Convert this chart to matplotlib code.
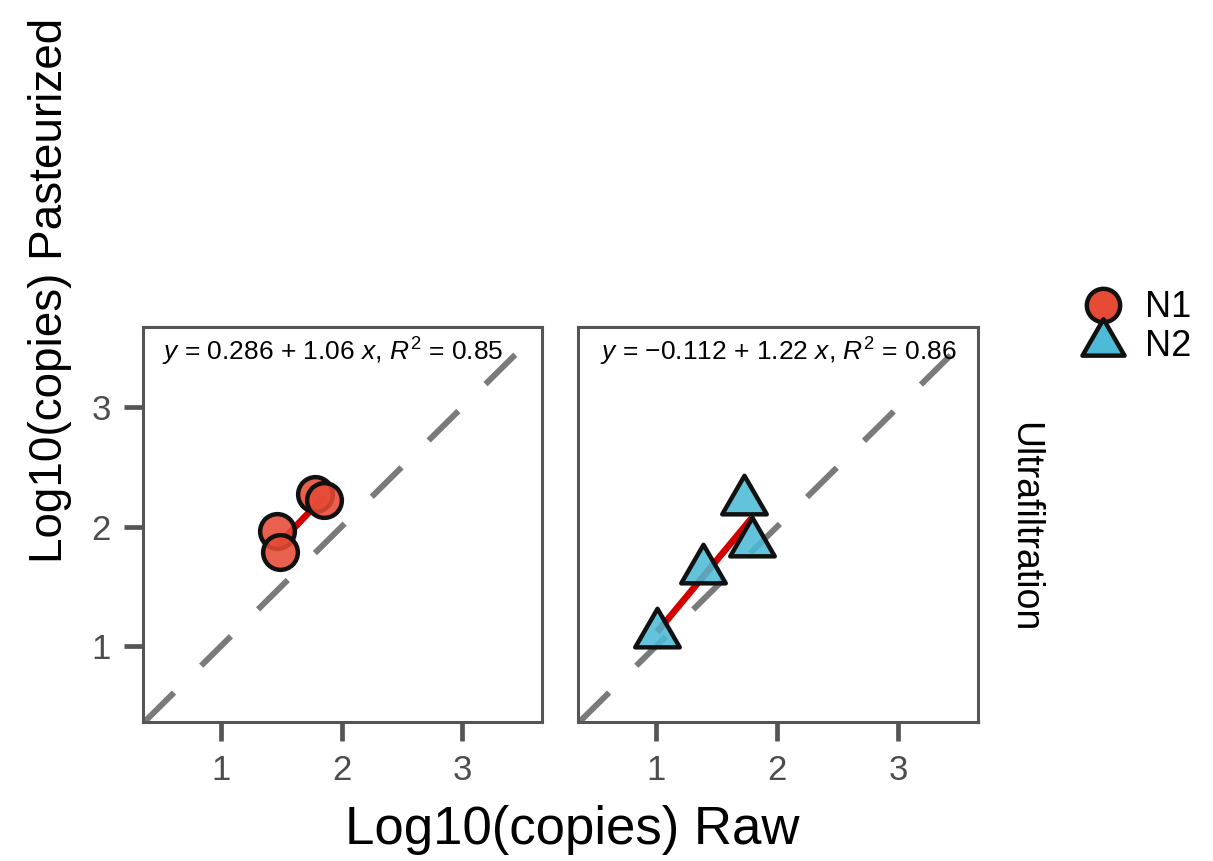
import numpy as np
import matplotlib
matplotlib.use("Agg")
import matplotlib.pyplot as plt
from matplotlib.lines import Line2D
from matplotlib.path import Path

plt.rcParams['font.family'] = ['Liberation Sans', 'DejaVu Sans']
plt.rcParams['mathtext.fontset'] = 'custom'
plt.rcParams['mathtext.rm'] = 'Liberation Sans'
plt.rcParams['mathtext.it'] = 'Liberation Sans:italic'

# ---- data ----
n1_raw = [1.467, 1.49, 1.78, 1.855]
n1_past = [1.96, 1.785, 2.27, 2.22]
n2_raw = [1.727, 1.79, 1.384, 1.008]
n2_past = [2.21, 1.86, 1.64, 1.10]
fit_n1 = (0.286, 1.06, 0.85)
fit_n2 = (-0.112, 1.22, 0.86)
series = ["N1", "N2"]
facet_label = "Ultrafiltration"
ticks = [1, 2, 3]
xlabel = "Log10(copies) Raw"
ylabel = "Log10(copies) Pasteurized"

red_fill = "#E64B35"
blue_fill = "#4DBBD5"
frame_col = "#555555"

tri = Path([(-1.0, -0.577), (1.0, -0.577), (0.0, 1.155), (-1.0, -0.577)],
           [Path.MOVETO, Path.LINETO, Path.LINETO, Path.CLOSEPOLY])

W, H = 1213, 861
fig = plt.figure(figsize=(W / 100, H / 100), dpi=100)

def px_axes(l, t, r, b):
    return fig.add_axes([l / W, 1 - b / H, (r - l) / W, (b - t) / H])

ax1 = px_axes(143, 327, 542, 722)
ax2 = px_axes(578, 327, 978, 722)

panels = [
    (ax1, n1_raw, n1_past, fit_n1, 'o', 25, red_fill),
    (ax2, n2_raw, n2_past, fit_n2, tri, 37, blue_fill),
]

for i, (ax, xs, ys, fit, mk, ms, fc) in enumerate(panels):
    ax.set_xlim(0.353, 3.66)
    ax.set_ylim(0.364, 3.67)
    ax.axline((1, 1), slope=1, color="#7A7A7A", lw=4.3, dashes=(7.0, 6.4), zorder=1)
    xs_a = np.array(xs)
    xf = np.array([xs_a.min(), xs_a.max()])
    ax.plot(xf, fit[0] + fit[1] * xf, color="#D40000", lw=4.8, zorder=2,
            solid_capstyle='butt')
    ax.plot(xs, ys, linestyle='none', marker=mk, markersize=ms,
            markerfacecolor=matplotlib.colors.to_rgba(fc, 0.88),
            markeredgecolor="#111111", markeredgewidth=3.2, zorder=3)
    eq = (r"$y$ = %s%.3f + %.2f $x$, $R^2$ = %.2f"
          % ("\u2212" if fit[0] < 0 else "", abs(fit[0]), fit[1], fit[2]))
    ax.text(0.048 if i == 0 else 0.055, 0.937, eq, transform=ax.transAxes,
            ha='left', va='center', fontsize=19, color='black', zorder=5)
    for s in ax.spines.values():
        s.set_color(frame_col)
        s.set_linewidth(2.2)
    ax.set_xticks(ticks)
    ax.set_yticks(ticks)
    ax.tick_params(axis='both', length=14, width=3.4, color=frame_col,
                   labelsize=25, labelcolor="#4D4D4D", pad=9)
    if i == 1:
        ax.tick_params(axis='y', left=False, labelleft=False)

fig.text(572 / W, 1 - 830 / H, xlabel, ha='center', va='center', fontsize=38)
fig.text(50 / W, 1 - 290 / H, ylabel, ha='center', va='center', fontsize=33,
         rotation=90)
fig.text(1024 / W, 1 - 527 / H, facet_label, ha='center', va='center',
         fontsize=27, rotation=270)

handles = [
    Line2D([], [], linestyle='none', marker='o', markersize=24,
           markerfacecolor=red_fill, markeredgecolor="#111111", markeredgewidth=3.2),
    Line2D([], [], linestyle='none', marker=tri, markersize=35,
           markerfacecolor=blue_fill, markeredgecolor="#111111", markeredgewidth=3.2),
]
fig.legend(handles, series, loc='center left', bbox_to_anchor=(1085 / W, 1 - 327 / H),
           frameon=False, fontsize=26, handletextpad=0.67, labelspacing=0.1,
           handlelength=1.0, borderpad=0, borderaxespad=0)

fig.savefig("out.png", dpi=100)
